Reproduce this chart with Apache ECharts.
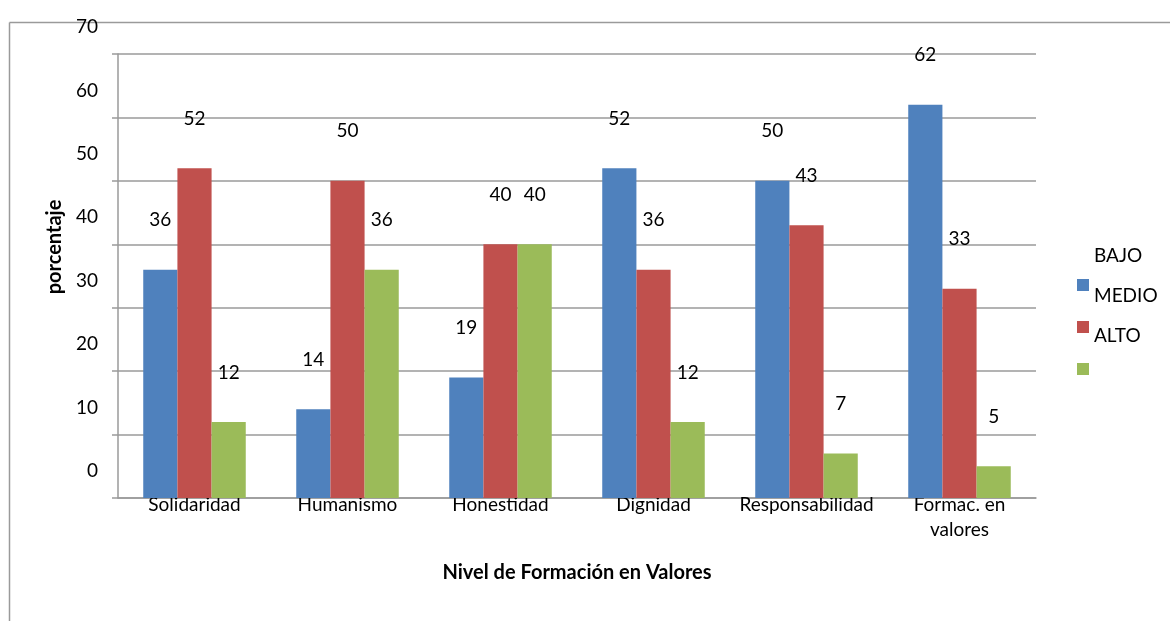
<!DOCTYPE html>
<html>
<head>
<meta charset="utf-8">
<script src="https://cdn.jsdelivr.net/npm/echarts@6/dist/echarts.min.js"></script>
<style>
html,body{margin:0;padding:0;background:#fff;}
#chart{width:1170px;height:621px;}
</style>
</head>
<body>
<div id="chart"></div>
<script>
var categories = ['Solidaridad', 'Humanismo', 'Honestidad', 'Dignidad', 'Responsabilidad', 'Formac. en valores'];
var seriesNames = ['BAJO', 'MEDIO', 'ALTO'];
var bajo = [36, 14, 19, 52, 50, 62];
var medio = [52, 50, 40, 36, 43, 33];
var alto = [12, 36, 40, 12, 7, 5];
var yTicks = [0, 10, 20, 30, 40, 50, 60, 70];
var xTitle = 'Nivel de Formación en Valores';
var yTitle = 'porcentaje';

var colors = ['#4F81BD', '#C0504D', '#9BBB59'];
var FONT = 'Lato';
var FS = 19;
var gridCol = '#9a9a9a';

var chart = echarts.init(document.getElementById('chart'));

function mkSeries(name, data, color) {
  return {
    name: name,
    type: 'bar',
    data: data,
    barGap: '0%',
    barCategoryGap: '33%',
    itemStyle: { color: color },
    label: {
      show: true,
      position: 'top',
      distance: 40,
      color: '#000',
      fontFamily: FONT,
      fontSize: FS
    }
  };
}

var valSeries = [bajo, medio, alto];

var graphics = [
  { type: 'line', shape: { x1: 9.5, y1: 22.5, x2: 1170, y2: 22.5 }, style: { stroke: gridCol, lineWidth: 1.5 } },
  { type: 'line', shape: { x1: 9.5, y1: 22.5, x2: 9.5, y2: 621 }, style: { stroke: gridCol, lineWidth: 1.5 } },
  { type: 'text', x: 55, y: 247, rotation: Math.PI / 2,
    style: { text: yTitle, fontFamily: FONT, fontSize: 20, fontWeight: 'bold', fill: '#000', align: 'center', verticalAlign: 'middle' } }
];
seriesNames.forEach(function (n, i) {
  graphics.push({ type: 'text', x: 1094, y: 256 + i * 40,
    style: { text: n, fontFamily: FONT, fontSize: FS, fill: '#000', align: 'left', verticalAlign: 'middle' } });
});

chart.setOption({
  animation: false,
  backgroundColor: '#fff',
  color: colors,
  grid: { left: 118, right: 134, top: 52, bottom: 123, containLabel: false },
  legend: {
    orient: 'vertical',
    left: 1077,
    top: 279,
    padding: 0,
    itemWidth: 12,
    itemHeight: 12,
    itemGap: 30,
    icon: 'rect',
    data: seriesNames,
    formatter: function () { return ''; },
    textStyle: { fontSize: 1 }
  },
  xAxis: {
    type: 'category',
    data: categories,
    name: xTitle,
    nameLocation: 'middle',
    nameGap: 65,
    nameTextStyle: { fontFamily: FONT, fontSize: 20, fontWeight: 'bold', color: '#000' },
    axisLine: { lineStyle: { color: gridCol, width: 1.5 } },
    axisTick: { show: false },
    axisLabel: {
      interval: 0,
      margin: -6,
      fontFamily: FONT,
      fontSize: FS,
      color: '#000',
      lineHeight: 25,
      formatter: function (v) {
        if (v.length > 16) {
          var i = v.lastIndexOf(' ');
          return v.slice(0, i) + '\n' + v.slice(i + 1);
        }
        return v;
      }
    }
  },
  yAxis: {
    type: 'value',
    min: yTicks[0],
    max: yTicks[yTicks.length - 1],
    interval: yTicks[1] - yTicks[0],
    axisLine: { show: true, lineStyle: { color: gridCol, width: 1.5 } },
    axisTick: { show: true, length: 6, lineStyle: { color: gridCol, width: 1.5 } },
    splitLine: { show: true, lineStyle: { color: gridCol, width: 1.5 } },
    axisLabel: {
      margin: 20,
      fontFamily: FONT,
      fontSize: FS,
      color: '#000',
      verticalAlign: 'bottom',
      lineHeight: 54
    }
  },
  graphic: graphics,
  series: [
    mkSeries(seriesNames[0], valSeries[0], colors[0]),
    mkSeries(seriesNames[1], valSeries[1], colors[1]),
    mkSeries(seriesNames[2], valSeries[2], colors[2])
  ]
});
</script>
</body>
</html>
